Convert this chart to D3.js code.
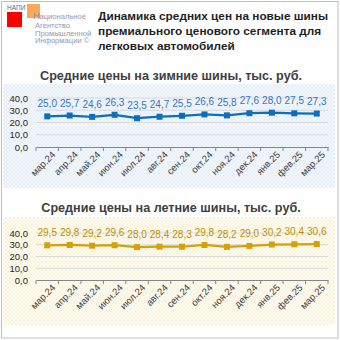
<!DOCTYPE html>
<html><head><meta charset="utf-8">
<script src="https://cdn.jsdelivr.net/npm/d3@7"></script>
<style>
html,body{margin:0;padding:0;background:#fff;}
svg{display:block;}
</style></head>
<body>
<script>
const months = ["мар.24","апр.24","май.24","июн.24","июл.24","авг.24","сен.24","окт.24","ноя.24","дек.24","янв.25","фев.25","мар.25"];
const winterPrices = [25.0,25.7,24.6,26.3,23.5,24.7,25.5,26.6,25.8,27.6,28.0,27.5,27.3];
const summerPrices = [29.5,29.8,29.2,29.6,28.0,28.4,28.3,29.8,28.2,29.0,30.2,30.4,30.6];
const yTicks = [0,10,20,30,40];
const headerTitle = ["Динамика средних цен на новые шины","премиального ценового сегмента для","легковых автомобилей"];
const logoLines = ["ациональное","Агентство","Промышленной","Информации ©"];
const winterTitle = "Средние цены на зимние шины, тыс. руб.";
const summerTitle = "Средние цены на летние шины, тыс. руб.";

const W = 340, H = 340;
const svg = d3.select("body").append("svg").attr("width", W).attr("height", H);
const defs = svg.append("defs");

function hatch(id, base, line) {
  const p = defs.append("pattern").attr("id", id).attr("patternUnits","userSpaceOnUse")
    .attr("width",4).attr("height",4);
  p.append("rect").attr("width",4).attr("height",4).attr("fill",base);
  p.append("path").attr("d","M0,4 L4,0 M0,0 L4,4").attr("stroke",line).attr("stroke-width",0.6);
}
hatch("hb", "#F4F8FD", "#DCE7F4");
hatch("hy", "#FEFCF3", "#F5EBCF");

svg.append("rect").attr("width",W).attr("height",H).attr("fill","#fff");
svg.append("rect").attr("x",1.5).attr("y",1.5).attr("width",336.5).attr("height",336.5)
  .attr("fill","none").attr("stroke","#BFBFBF").attr("stroke-width",1);

// logo
const narrow = "Liberation Sans Narrow, Liberation Sans";
svg.append("text").attr("x",7).attr("y",9.5).text("НАПИ")
  .attr("font-family",narrow).attr("font-size",6.5).attr("fill","#5A6B8C");
svg.append("rect").attr("x",7).attr("y",12).attr("width",15).attr("height",15).attr("fill","#FF0000");
svg.append("rect").attr("x",27).attr("y",4).attr("width",13).attr("height",14).attr("fill","#F4A04A").attr("opacity",0.9);
svg.append("text").attr("x",33).attr("y",18.8).text("Н")
  .attr("font-family",narrow).attr("font-size",9.5).attr("fill","#8A95A8");
logoLines.forEach((t,i)=>{
  svg.append("text").attr("x", i===0?39.5:35).attr("y",i===0?19.3:28+(i-1)*7.6).text(t)
    .attr("font-family",narrow).attr("font-size",7.6).attr("fill","#8E9AAF");
});
headerTitle.forEach((t,i)=>{
  svg.append("text").attr("x",98).attr("y",20+i*15).text(t)
    .attr("font-family","Liberation Sans, Arial").attr("font-size",11.8).attr("font-weight","bold").attr("fill","#1F1F1F");
});

const x = d3.scaleBand().domain(months).range([36,328]).padding(0);

function drawChart(cfg) {
  const g = svg.append("g");
  g.append("rect").attr("x",3).attr("y",cfg.bgTop).attr("width",332).attr("height",cfg.bgBottom-cfg.bgTop)
    .attr("fill",`url(#${cfg.pattern})`);
  g.append("text").attr("x",171).attr("y",cfg.titleY).attr("text-anchor","middle").text(cfg.title)
    .attr("font-family","Liberation Sans, Arial").attr("font-size",12.6).attr("font-weight","bold").attr("fill","#404040");
  const y = d3.scaleLinear().domain([0,40]).range([cfg.y0, cfg.y40]);
  g.selectAll(".grid").data(yTicks.filter(d=>d>0)).enter().append("line")
    .attr("x1",36).attr("x2",328).attr("y1",d=>y(d)).attr("y2",d=>y(d))
    .attr("stroke","#D9D9D9").attr("stroke-width",1);
  const ya = d3.axisLeft(y).tickValues(yTicks).tickSize(0).tickPadding(6)
    .tickFormat(d=>d3.format(".1f")(d).replace(".",","));
  const yg = g.append("g").attr("transform","translate(34,0)").call(ya);
  yg.select(".domain").remove();
  yg.selectAll("text").attr("font-family","Liberation Sans, Arial").attr("font-size",9.5).attr("fill","#262626");
  const xa = d3.axisBottom(x).tickSize(0).tickFormat(d=>d);
  const xg = g.append("g").attr("transform",`translate(0,${cfg.y0})`).call(xa);
  xg.select(".domain").attr("stroke","#868686");
  xg.selectAll(".tick line").remove();
  const bounds = months.map(m=>x(m)).concat([x.range()[1]]);
  xg.selectAll(".bt").data(bounds).enter().append("line")
    .attr("x1",d=>d).attr("x2",d=>d).attr("y1",0).attr("y2",4).attr("stroke","#868686");
  xg.selectAll(".tick text").attr("font-family","Liberation Sans, Arial").attr("font-size",9.5)
    .attr("fill","#404040").attr("text-anchor","end")
    .attr("transform","translate(2,7) rotate(-45)").attr("dx","0").attr("dy","0.6em").attr("y",0).attr("x",4);
  const cx = m => x(m)+x.bandwidth()/2;
  const line = d3.line().x((d,i)=>cx(months[i])).y(d=>y(d));
  g.append("path").datum(cfg.values).attr("d",line).attr("fill","none")
    .attr("stroke",cfg.color).attr("stroke-width",2.25).attr("stroke-linejoin","round");
  g.selectAll(".mk").data(cfg.values).enter().append("rect")
    .attr("x",(d,i)=>cx(months[i])-3).attr("y",d=>y(d)-3).attr("width",6).attr("height",6)
    .attr("fill",cfg.color);
  g.selectAll(".lb").data(cfg.values).enter().append("text")
    .attr("x",(d,i)=>cx(months[i])).attr("y",d=>y(d)-9).attr("text-anchor","middle")
    .text(d=>d3.format(".1f")(d).replace(".",","))
    .attr("font-family","Liberation Sans, Arial").attr("font-size",10).attr("fill",cfg.labelColor);
}

drawChart({title:winterTitle,titleY:80,bgTop:84,bgBottom:188,y0:147,y40:98,values:winterPrices,
  color:"#0B6FBF",labelColor:"#2F78BE",pattern:"hb"});
drawChart({title:summerTitle,titleY:212,bgTop:217,bgBottom:325,y0:280,y40:233,values:summerPrices,
  color:"#D4A106",labelColor:"#C09000",pattern:"hy"});
</script>
</body></html>
